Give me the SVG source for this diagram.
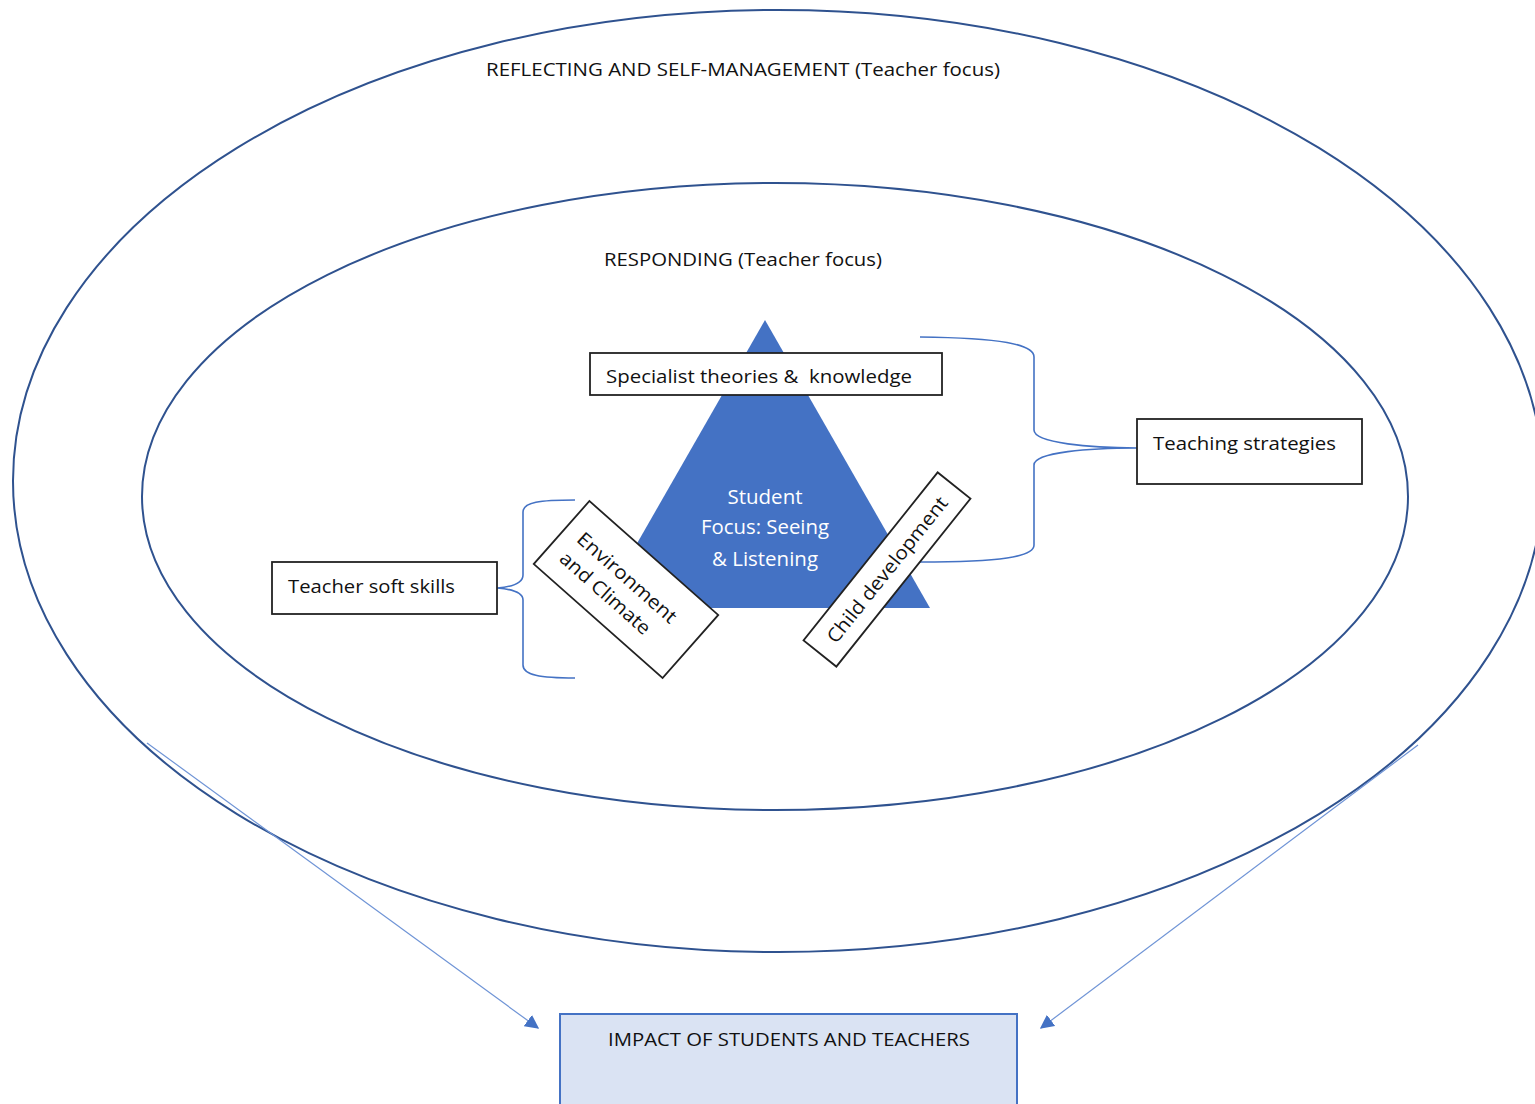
<svg xmlns="http://www.w3.org/2000/svg" width="1535" height="1104" viewBox="0 0 1535 1104">
<defs>
<style>
.ell{fill:none;stroke:#2F528F;stroke-width:2}
.box{fill:#fff;stroke:#222;stroke-width:1.8}
.t{font-family:"Open Sans","Liberation Sans",sans-serif;font-size:19px;fill:#111}
.w{font-family:"Open Sans","Liberation Sans",sans-serif;font-size:20px;fill:#fff}
.brace{fill:none;stroke:#4472C4;stroke-width:1.6}
.arr{fill:none;stroke:#6F94D6;stroke-width:1.2}
</style>
<marker id="ah" viewBox="0 0 10 10" refX="9" refY="5" markerWidth="14" markerHeight="14" markerUnits="userSpaceOnUse" orient="auto">
<path d="M0,0 L10,5 L0,10 z" fill="#4472C4"/>
</marker>
</defs>
<rect width="1535" height="1104" fill="#fff"/>

<g id="outer">
<ellipse class="ell" cx="778" cy="481" rx="765" ry="471"/>
<text class="t" x="486" y="76" textLength="514" lengthAdjust="spacingAndGlyphs">REFLECTING AND SELF-MANAGEMENT (Teacher focus)</text>
</g>
<g id="inner">
<ellipse class="ell" cx="775" cy="496.5" rx="633" ry="313.5"/>
<text class="t" x="604" y="266" textLength="278" lengthAdjust="spacingAndGlyphs">RESPONDING (Teacher focus)</text>
</g>

<g id="connectors">
<path class="brace" d="M575,500 C540,500 523,502 523,512 L523,575 C523,584 510,587 497,588 C510,589 523,592 523,600 L523,665 C523,675 540,678 575,678"/>
<path class="brace" d="M920,337 C1000,338 1034,344 1034,357 L1034,430 C1034,443 1090,448 1137,448 C1090,448 1034,452 1034,465 L1034,545 C1034,557 1000,562 920,562"/>
<line class="arr" x1="147" y1="743" x2="538" y2="1028" marker-end="url(#ah)"/>
<line class="arr" x1="1418" y1="745" x2="1041" y2="1028" marker-end="url(#ah)"/>
</g>

<g id="triangle">
<polygon points="765,320 600,608 930,608" fill="#4472C4"/>
<text class="w" text-anchor="middle" x="765" y="504" textLength="75" lengthAdjust="spacingAndGlyphs">Student</text>
<text class="w" text-anchor="middle" x="765" y="534" textLength="128" lengthAdjust="spacingAndGlyphs">Focus: Seeing</text>
<text class="w" text-anchor="middle" x="765" y="566" textLength="106" lengthAdjust="spacingAndGlyphs">&amp; Listening</text>
</g>

<g id="specialist">
<rect class="box" x="590" y="353" width="352" height="42"/>
<text class="t" x="606" y="383" textLength="306" lengthAdjust="spacingAndGlyphs" xml:space="preserve">Specialist theories &amp;  knowledge</text>
</g>

<g id="environment" transform="translate(626,589.5) rotate(41.5)">
<rect class="box" x="-86" y="-42" width="172" height="84"/>
<text class="t" x="-70" y="-3" textLength="126" lengthAdjust="spacingAndGlyphs">Environment</text>
<text class="t" x="-70" y="23" textLength="114" lengthAdjust="spacingAndGlyphs">and Climate</text>
</g>

<g id="child" transform="translate(887,569.5) rotate(-51.4)">
<rect class="box" x="-107.5" y="-21" width="215" height="42"/>
<text class="t" x="0" y="7" text-anchor="middle" textLength="181" lengthAdjust="spacingAndGlyphs">Child development</text>
</g>

<g id="softskills">
<rect class="box" x="272" y="562" width="225" height="52"/>
<text class="t" x="288" y="593" textLength="167" lengthAdjust="spacingAndGlyphs">Teacher soft skills</text>
</g>

<g id="strategies">
<rect class="box" x="1137" y="419" width="225" height="65"/>
<text class="t" x="1153" y="450" textLength="183" lengthAdjust="spacingAndGlyphs">Teaching strategies</text>
</g>

<g id="impact">
<rect x="560" y="1014" width="457" height="100" fill="#DAE3F3" stroke="#4472C4" stroke-width="2"/>
<text class="t" x="608" y="1046" textLength="362" lengthAdjust="spacingAndGlyphs">IMPACT OF STUDENTS AND TEACHERS</text>
</g>
</svg>
